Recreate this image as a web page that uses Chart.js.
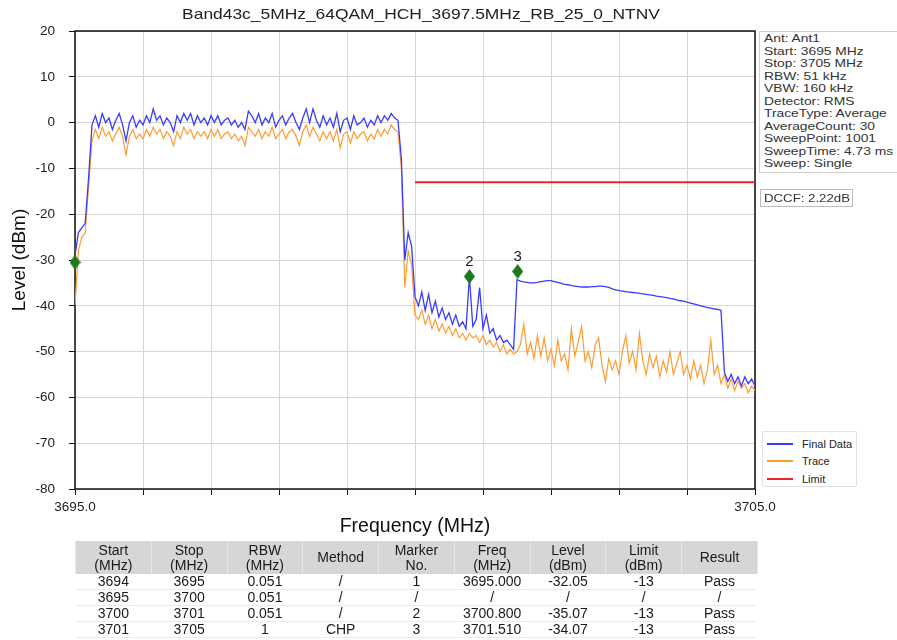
<!DOCTYPE html>
<html><head><meta charset="utf-8">
<script src="https://cdn.jsdelivr.net/npm/chart.js@4.4.1/dist/chart.umd.min.js"></script>
<style>
body{margin:0;background:#fff;width:897px;height:640px;overflow:hidden;position:relative;font-family:"Liberation Sans",Arial,sans-serif;color:#222}
#c{position:absolute;left:0;top:0}
#title{position:absolute;left:121px;width:600px;top:4px;text-align:center;font-size:15px;line-height:20px;transform:scaleX(1.16);transform-origin:50% 50%;color:#222;white-space:nowrap}
#info{position:absolute;left:759px;top:31px;width:140px;height:142px;border:1px solid #cfcfcf;box-sizing:border-box;background:#fff}
#info .in{position:absolute;left:4px;top:0;transform:scaleX(1.2);transform-origin:0 0;font-size:11.5px;line-height:12.5px;white-space:nowrap;color:#333}
#dccf{position:absolute;left:760px;top:189px;width:93px;height:18px;border:1px solid #bdbdbd;box-sizing:border-box;background:#fff}
#dccf .in{position:absolute;left:3px;top:2px;transform:scaleX(1.15);transform-origin:0 0;font-size:11.5px;line-height:13px;white-space:nowrap;color:#333}
#legend{position:absolute;left:762px;top:431px;width:95px;height:56px;border:1px solid #e2e2e2;box-sizing:border-box;background:#fff;border-radius:2px}
#legend .it{position:absolute;left:4px;height:14px;font-size:11px;line-height:14px;white-space:nowrap;color:#222}
#legend .ln{display:inline-block;width:26px;height:2px;vertical-align:middle;margin-right:9px;position:relative;top:-1px}
#tbl{position:absolute;left:75px;top:541px;width:682px;border-collapse:collapse;table-layout:fixed;font-size:14px;color:#1a1a1a}
#tbl th{background:#d6d6d6;font-weight:normal;height:33px;line-height:15px;padding:0;border-left:1px solid #e6e6e6;border-right:1px solid #e6e6e6}
#tbl td{height:15px;line-height:15px;padding:0;text-align:center;border-bottom:1px solid #ececec}
</style></head>
<body>
<canvas id="c" width="897" height="545"></canvas>
<div id="title"></div>
<div id="info"><div class="in"></div></div>
<div id="dccf"><div class="in"></div></div>
<div id="legend"></div>
<table id="tbl"></table>
<script>
const chartTitle = 'Band43c_5MHz_64QAM_HCH_3697.5MHz_RB_25_0_NTNV';
const xTitle = 'Frequency (MHz)';
const yTitle = 'Level (dBm)';
const xMin = 3695, xMax = 3705, yMin = -80, yMax = 20;

const freq = [
3695.00,3695.05,3695.10,3695.15,3695.20,3695.25,3695.30,3695.35,3695.40,3695.45,
3695.50,3695.55,3695.60,3695.65,3695.70,3695.75,3695.80,3695.85,3695.90,3695.95,
3696.00,3696.05,3696.10,3696.15,3696.20,3696.25,3696.30,3696.35,3696.40,3696.45,
3696.50,3696.55,3696.60,3696.65,3696.70,3696.75,3696.80,3696.85,3696.90,3696.95,
3697.00,3697.05,3697.10,3697.15,3697.20,3697.25,3697.30,3697.35,3697.40,3697.45,
3697.50,3697.55,3697.60,3697.65,3697.70,3697.75,3697.80,3697.85,3697.90,3697.95,
3698.00,3698.05,3698.10,3698.15,3698.20,3698.25,3698.30,3698.35,3698.40,3698.45,
3698.50,3698.55,3698.60,3698.65,3698.70,3698.75,3698.80,3698.85,3698.90,3698.95,
3699.00,3699.05,3699.10,3699.15,3699.20,3699.25,3699.30,3699.35,3699.40,3699.45,
3699.50,3699.55,3699.60,3699.65,3699.70,3699.75,3699.80,3699.85,3699.90,3699.95,
3700.00,3700.05,3700.10,3700.15,3700.20,3700.25,3700.30,3700.35,3700.40,3700.45,
3700.50,3700.55,3700.60,3700.65,3700.70,3700.75,3700.80,3700.85,3700.90,3700.95,
3701.00,3701.05,3701.10,3701.15,3701.20,3701.25,3701.30,3701.35,3701.40,3701.45,
3701.50,3701.55,3701.60,3701.65,3701.70,3701.75,3701.80,3701.85,3701.90,3701.95,
3702.00,3702.05,3702.10,3702.15,3702.20,3702.25,3702.30,3702.35,3702.40,3702.45,
3702.50,3702.55,3702.60,3702.65,3702.70,3702.75,3702.80,3702.85,3702.90,3702.95,
3703.00,3703.05,3703.10,3703.15,3703.20,3703.25,3703.30,3703.35,3703.40,3703.45,
3703.50,3703.55,3703.60,3703.65,3703.70,3703.75,3703.80,3703.85,3703.90,3703.95,
3704.00,3704.05,3704.10,3704.15,3704.20,3704.25,3704.30,3704.35,3704.40,3704.45,
3704.50,3704.55,3704.60,3704.65,3704.70,3704.75,3704.80,3704.85,3704.90,3704.95,
3705.00];

const finalData = [
-29,-24,-23,-22,-12,
-0.5,1.5,-1,2,0,1,-1.5,0.5,2,-0.5,
-4,0,1.5,-1,0.5,-0.5,1.5,0,3,0.5,
1.5,-0.5,1,0,-2,1.5,0,2,0.5,2,
-0.5,1.5,0,1,-0.5,1.5,0,1.5,-0.5,0.5,
1,-0.5,0.5,-1,0,-1.5,2.5,1.5,0,2,
-0.5,1,0,2,-1,0.5,1.5,-0.5,1,2,
0,-1.5,1,3,0,3,0.5,-1,1.5,-0.5,
1,-1,2,-2,0.5,1,-1.5,1.5,-0.5,0,
1,-1,0.5,-0.5,1.5,0,1.5,0.5,2,1,
0.5,-8,-30,-24,-27,-38,
-40,-37,-41,-37.5,-41.5,-39,-42.5,-40.5,-43,-41.5,
-44,-42,-44.5,-43.5,-45,-33.6,-44.5,-43,-36,-45,
-42,-46,-45,-47.5,-46.5,-48,-47.5,-48.5,-49.5,
-34.3,-34.6,-34.8,-34.9,-35.0,-35.0,-34.9,-34.7,-34.6,-34.5,
-34.5,-34.7,-34.9,-35.1,-35.3,-35.4,-35.6,-35.7,-35.8,-35.9,
-35.9,-35.9,-35.8,-35.8,-35.7,-35.7,-35.8,-36.0,-36.3,-36.5,
-36.7,-36.8,-36.9,-37.0,-37.1,-37.2,-37.3,-37.4,-37.5,-37.6,
-37.7,-37.9,-38.0,-38.1,-38.2,-38.4,-38.5,-38.7,-38.9,-39.0,
-39.2,-39.4,-39.6,-39.8,-40.0,-40.2,-40.4,-40.5,-40.7,-40.8,
-41.0,
-54.5,-56.5,-55,-57,-55.5,-57.5,-55.5,-57,-56,-57.5];

const traceData = [
-40,-28,-25,-24,-14,
-4,-1.5,-3.5,-1,-3,-2,-4,-2.5,-1,-3,
-7,-3,-1.5,-3.5,-2.5,-3.5,-1.5,-3,-1,-2.5,
-1.5,-3.5,-2,-3,-5,-2,-3.5,-1,-2.5,-1.5,
-3.5,-2,-3,-2,-3.5,-1.5,-3,-1.5,-3.5,-2.5,
-2,-3.5,-2.5,-4,-3,-5,-1,-2,-3,-1.5,
-3.5,-2,-3,-1,-3.5,-2.5,-1.5,-3.5,-2,-1.5,
-3,-5,-2,-0.5,-3,-1,-2.5,-4,-2,-3.5,
-2,-4,-1.5,-5.5,-2.5,-2,-4.5,-2,-3.5,-2.5,
-2,-4,-2.5,-3.5,-1.5,-3,-1.5,-2.5,-0.5,-1.5,
-2,-10,-36,-28,-31,-42,
-43,-41,-44,-42,-45,-43,-45.5,-44,-46,-44.5,
-46.5,-45,-47,-46,-47.5,-46,-47,-46.5,-48,-46.5,
-48.5,-47.5,-49,-48,-50,-48.5,-50.5,-49.5,-50.5,
-50,-48.5,-44,-50.5,-48,-51.5,-46.5,-51,-47,-52,
-49.5,-53,-47.5,-52,-50.5,-54,-45,-51,-48,-44.5,
-52,-50,-53.5,-48.5,-47,-53,-56.5,-51.5,-54,-52,
-55,-50,-46.5,-52.5,-50,-54,-46,-52,-55,-50.5,
-53.5,-51,-55.5,-52,-54.5,-50,-55,-52.5,-50,-55,
-53,-56,-52,-55.5,-53,-57,-54,-47.5,-55,-53,
-57,-55,-58,-56,-58.5,-56.5,-58,-57,-59,-57.5,-58.5];

const limitFreq = [3700.0, 3705.0];
const limitLevel = [-13, -13];

const markerFreq = [3695.000, 3700.800, 3701.510];
const markerLevel = [-30.5, -33.6, -32.5];
const markerLabels = ['', '2', '3'];

const infoLines = ['Ant: Ant1','Start: 3695 MHz','Stop: 3705 MHz','RBW: 51 kHz','VBW: 160 kHz','Detector: RMS','TraceType: Average','AverageCount: 30','SweepPoint: 1001','SweepTime: 4.73 ms','Sweep: Single'];
const dccfText = 'DCCF: 2.22dB';
const legendNames = ['Final Data','Trace','Limit'];

const tableHeader = ['Start<br>(MHz)','Stop<br>(MHz)','RBW<br>(MHz)','Method','Marker<br>No.','Freq<br>(MHz)','Level<br>(dBm)','Limit<br>(dBm)','Result'];
const tableRows = [
 ['3694','3695','0.051','/','1','3695.000','-32.05','-13','Pass'],
 ['3695','3700','0.051','/','/','/','/','/','/'],
 ['3700','3701','0.051','/','2','3700.800','-35.07','-13','Pass'],
 ['3701','3705','1','CHP','3','3701.510','-34.07','-13','Pass']
];

const colors = {final:'#3b3bff', trace:'#ff9c33', limit:'#e8232b', marker:'#1d7a1d'};

// HTML texts
document.getElementById('title').textContent = chartTitle;
document.querySelector('#info .in').innerHTML = infoLines.join('<br>');
document.querySelector('#dccf .in').textContent = dccfText;
const legColors = [colors.final, colors.trace, colors.limit];
const leg = document.getElementById('legend');
legendNames.forEach((n,i)=>{
  const d=document.createElement('div'); d.className='it'; d.style.top=(5+i*17.3)+'px';
  d.innerHTML='<span class="ln" style="background:'+legColors[i]+'"></span>'+n;
  leg.appendChild(d);
});
const tbl=document.getElementById('tbl');
let html='<colgroup>'+tableHeader.map(()=>'<col style="width:75.78px">').join('')+'</colgroup>';
html+='<tr>'+tableHeader.map(h=>'<th>'+h+'</th>').join('')+'</tr>';
tableRows.forEach(r=>{html+='<tr>'+r.map(v=>'<td>'+v+'</td>').join('')+'</tr>';});
tbl.innerHTML=html;

function diamond(w,h,color){
  const cv=document.createElement('canvas'); cv.width=w; cv.height=h;
  const g=cv.getContext('2d'); g.fillStyle=color;
  g.beginPath(); g.moveTo(w/2,0); g.lineTo(w,h/2); g.lineTo(w/2,h); g.lineTo(0,h/2); g.closePath(); g.fill();
  return cv;
}
const diamondImg = diamond(11,15,colors.marker);

const framePlugin = {id:'frame', beforeDatasetsDraw(c){
  const {ctx, chartArea:a} = c; ctx.save(); ctx.strokeStyle='#111'; ctx.lineWidth=1.5;
  ctx.strokeRect(a.left, a.top, a.right-a.left, a.bottom-a.top); ctx.restore();
}};
const labelPlugin = {id:'mlabels', afterDatasetsDraw(c){
  const meta = c.getDatasetMeta(0); const ctx=c.ctx; ctx.save();
  ctx.font='15px "Liberation Sans", Arial'; ctx.fillStyle='#222'; ctx.textAlign='center'; ctx.textBaseline='middle';
  meta.data.forEach((p,i)=>{ if(markerLabels[i]) ctx.fillText(markerLabels[i], p.x, p.y-15); });
  ctx.restore();
}};

const xy = (xs, ys) => xs.map((x,i)=>({x:x, y:ys[i]}));

Chart.defaults.font.family = '"Liberation Sans", Arial, sans-serif';
new Chart(document.getElementById('c'), {
  type:'line',
  data:{datasets:[
    {label:'Marker', data:xy(markerFreq, markerLevel), showLine:false, pointStyle:diamondImg, pointRadius:6, clip:false, order:0},
    {label:legendNames[0], data:xy(freq, finalData), borderColor:colors.final, borderWidth:1.3, pointRadius:0, order:1},
    {label:legendNames[1], data:xy(freq, traceData), borderColor:colors.trace, borderWidth:1.2, pointRadius:0, order:2},
    {label:legendNames[2], data:xy(limitFreq, limitLevel), borderColor:colors.limit, borderWidth:2, pointRadius:0, order:3}
  ]},
  options:{
    responsive:false, animation:false, devicePixelRatio:1,
    layout:{padding:{left:0, right:142, top:31, bottom:0}},
    elements:{line:{tension:0}},
    plugins:{legend:{display:false}, title:{display:false}, tooltip:{enabled:false}},
    scales:{
      x:{type:'linear', min:xMin, max:xMax,
        afterFit(s){ s.height = 545-489; },
        ticks:{stepSize:1, autoSkip:false, maxRotation:0, padding:4, color:'#222', font:{size:13.5},
          callback:(v)=> (v===xMin||v===xMax) ? v.toFixed(1) : ''},
        grid:{color:'#d6d6d6', tickColor:'#111', tickLength:6, lineWidth:1},
        border:{display:false},
        title:{display:true, text:xTitle, color:'#111', font:{size:19.5}, padding:{top:0,bottom:7}}},
      y:{min:yMin, max:yMax,
        afterFit(s){ s.width = 75; },
        ticks:{stepSize:10, padding:14, color:'#222', font:{size:13.5}},
        grid:{color:'#d6d6d6', tickColor:'#111', tickLength:6, lineWidth:1},
        border:{display:false},
        title:{display:true, text:yTitle, color:'#111', font:{size:19}, padding:{top:8,bottom:0}}}
    }
  },
  plugins:[framePlugin, labelPlugin]
});
</script>
</body></html>
